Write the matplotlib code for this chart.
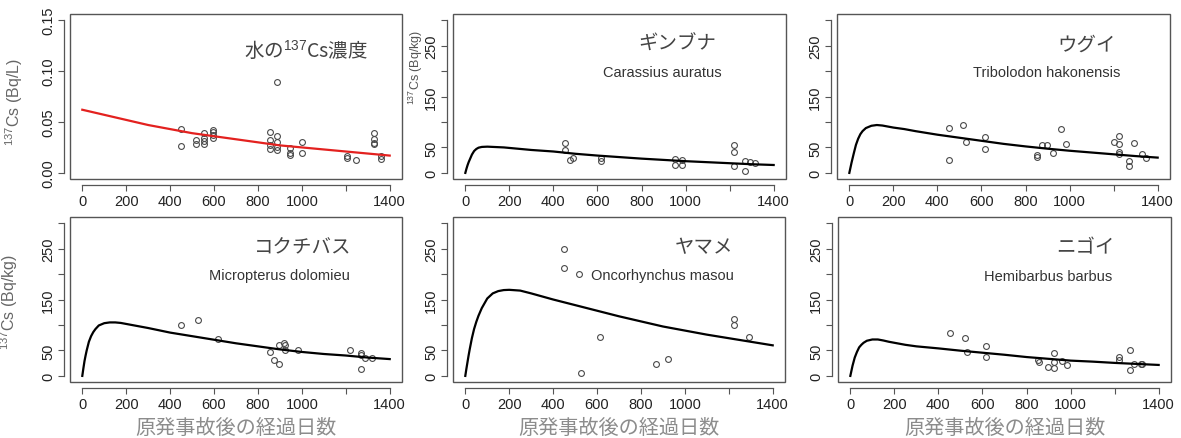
import matplotlib
matplotlib.use("Agg")
import matplotlib.pyplot as plt
from matplotlib.patches import Rectangle

plt.rcParams['font.family'] = ['Liberation Sans', 'Noto Sans CJK JP', 'DejaVu Sans']
plt.rcParams['mathtext.fontset'] = 'custom'
plt.rcParams['mathtext.rm'] = 'Liberation Sans'
plt.rcParams['mathtext.it'] = 'Liberation Sans:italic'
plt.rcParams['mathtext.bf'] = 'Liberation Sans:bold'

CJK = ['Noto Sans CJK JP', 'DejaVu Sans']

# ---------------- data ----------------
x_ticks = [0, 200, 400, 600, 800, 1000, 1200, 1400]
x_tick_labels = ['0', '200', '400', '600', '800', '1000', '', '1400']
water_y_ticks = [0.00, 0.05, 0.10, 0.15]
water_y_tick_labels = ['0.00', '0.05', '0.10', '0.15']
fish_y_ticks = [0, 50, 100, 150, 200, 250, 300]
fish_y_tick_labels = ['0', '50', '', '150', '', '250', '']

xlabel_text = '原発事故後の経過日数'

# water 137Cs
water_days = [451, 451, 520, 520, 553, 553, 553, 553, 596, 596, 596, 596,
              855, 855, 855, 855, 885, 885, 885, 885, 885, 945, 945, 945,
              1000, 1000, 1205, 1205, 1245, 1330, 1330, 1330, 1330, 1360, 1360]
water_cs = [0.043, 0.026, 0.032, 0.028, 0.039, 0.034, 0.031, 0.028,
            0.042, 0.040, 0.037, 0.034, 0.040, 0.032, 0.027, 0.023,
            0.089, 0.036, 0.030, 0.025, 0.022, 0.024, 0.020, 0.018,
            0.030, 0.020, 0.017, 0.015, 0.013, 0.039, 0.033, 0.029, 0.028,
            0.017, 0.014]
water_fit_days = [0, 100, 200, 300, 400, 500, 600, 700, 800, 900, 1000,
                  1100, 1200, 1300, 1400]
water_fit = [0.062, 0.057, 0.052, 0.047, 0.043, 0.039, 0.036, 0.033, 0.030,
             0.027, 0.025, 0.023, 0.021, 0.019, 0.017]

# fish fitted curves (common day grid)
fit_days = [0, 5, 10, 15, 20, 30, 40, 50, 60, 75, 100, 125, 150, 175, 200,
            250, 300, 400, 500, 600, 700, 800, 900, 1000, 1100, 1200, 1300,
            1400]
gin_fit = [0, 8, 15, 21, 26, 36, 43, 47, 49.5, 51, 51.5, 51, 50.5, 50, 49,
           47, 45, 42, 37.5, 34, 31, 28, 25.5, 23, 21, 19, 17, 15.5]
ugui_fit = [0, 10, 20, 29, 38, 55, 67, 76, 82, 88, 92.5, 94, 93, 91, 89,
            86, 82, 75, 69, 63, 57, 52, 47.5, 43.5, 40, 36.5, 33, 30]
koku_fit = [0, 15, 29, 40, 50, 67, 78, 86, 92, 99, 103.5, 105, 105, 104, 102,
            98, 94, 85, 78, 71, 64, 58, 52, 47, 43, 40, 36, 33]
yam_fit = [0, 14, 27, 40, 52, 74, 92, 106, 118, 133, 152, 162, 166.5, 168.5,
           169, 167.5, 162, 150, 139, 128, 117, 107, 97, 89, 81, 74, 67, 60]
nig_fit = [0, 10, 20, 28, 36, 47, 56, 61, 65, 69, 71.5, 71.5, 69.5, 67, 65,
           61, 58, 54, 49.5, 45.5, 41.5, 37, 33.5, 30, 28, 25.5, 23.5, 21.5]

# fish observations
gin_days = [452, 452, 476, 491, 615, 615, 953, 953, 985, 985, 1222, 1222,
            1222, 1272, 1272, 1293, 1317]
gin_cs = [59, 44, 26, 30, 30, 23, 27, 16, 25, 16, 54, 41, 13, 4, 23, 21, 20]

ugui_days = [452, 452, 517, 530, 617, 617, 850, 852, 873, 899, 926, 961, 986,
             1203, 1224, 1224, 1224, 1224, 1271, 1271, 1293, 1327, 1345]
ugui_cs = [88, 26, 94, 60, 70, 47, 36, 32, 54, 54, 40, 86, 57, 60, 73, 57,
           42, 38, 23, 13, 59, 38, 29]

koku_days = [451, 528, 616, 855, 873, 897, 897, 918, 923, 923, 983, 1219,
             1268, 1270, 1268, 1286, 1321]
koku_cs = [100, 110, 73, 47, 32, 60, 23, 64, 61, 51, 51, 51, 45, 42, 14, 36, 36]

yam_days = [448, 448, 517, 528, 614, 870, 923, 1222, 1222, 1290]
yam_cs = [250, 211, 201, 6, 76, 24, 34, 111, 100, 76]

nig_days = [451, 519, 530, 617, 617, 853, 856, 899, 923, 923, 923, 959, 983,
            1222, 1222, 1272, 1272, 1290, 1318, 1323]
nig_cs = [84, 75, 47, 59, 37, 31, 27, 18, 44, 28, 16, 29, 22, 38, 31, 50, 12,
          24, 23, 24]

# ---------------- figure ----------------
W, H = 1181, 439
fig = plt.figure(figsize=(W / 100, H / 100), dpi=100)


def add_ax(left, top, right, bottom):
    return fig.add_axes([left / W, 1 - bottom / H, (right - left) / W,
                         (bottom - top) / H])


AX_COL = '#555555'


def style(ax, yticks, ylabels, ylim):
    ax.set_xlim(-56, 1456)
    ax.set_ylim(*ylim)
    for s in ('top', 'right'):
        ax.spines[s].set_visible(False)
    for s in ('left', 'bottom'):
        ax.spines[s].set_position(('outward', 4.3))
        ax.spines[s].set_color(AX_COL)
        ax.spines[s].set_linewidth(0.9)
    ax.spines['bottom'].set_bounds(x_ticks[0], x_ticks[-1])
    ax.spines['left'].set_bounds(yticks[0], yticks[-1])
    ax.add_patch(Rectangle((0, 0), 1, 1, transform=ax.transAxes, fill=False,
                           edgecolor=AX_COL, lw=1.0, clip_on=False))
    ax.set_xticks(x_ticks)
    ax.set_xticklabels(x_tick_labels)
    ax.set_yticks(yticks)
    ax.set_yticklabels(ylabels, rotation=90, va='center')
    ax.tick_params(direction='out', length=4.5, width=0.8, color=AX_COL,
                   labelsize=10.5, labelcolor='#222222', pad=2)


def obs(ax, d, v):
    ax.plot(d, v, 'o', mfc='none', mec='#4a4a4a', ms=4.2, mew=0.8, zorder=3)


def titles(ax, jp, sp, jx, sx, jy=0.82, sy=0.65):
    ax.text(jx, jy, jp, transform=ax.transAxes, ha='center', va='center',
            fontsize=14, color='#444444', family=CJK)
    if sp:
        ax.text(sx, sy, sp, transform=ax.transAxes, ha='center', va='center',
                fontsize=10.5, color='#333333')


fish_ylim = (-12, 312)
LW = 1.6

# panel 1: water
ax1 = add_ax(70, 15, 402, 180)
style(ax1, water_y_ticks, water_y_tick_labels, (-0.006, 0.156))
obs(ax1, water_days, water_cs)
ax1.plot(water_fit_days, water_fit, color='#e3211f', lw=LW, zorder=4)
ax1.text(0.71, 0.78, '水の$^{137}$Cs濃度', transform=ax1.transAxes,
         ha='center', va='center', fontsize=14, color='#444444', family=CJK)
ax1.set_ylabel('$^{137}$Cs (Bq/L)', fontsize=11.5, color='#666666')
ax1.yaxis.set_label_coords(-0.135, 0.47)

# panel 2: ginbuna
ax2 = add_ax(453, 15, 786, 180)
style(ax2, fish_y_ticks, fish_y_tick_labels, fish_ylim)
obs(ax2, gin_days, gin_cs)
ax2.plot(fit_days, gin_fit, color='black', lw=LW, zorder=4)
titles(ax2, 'ギンブナ', 'Carassius auratus', 0.673, 0.63)
ax2.set_ylabel('$^{137}$Cs (Bq/kg)', fontsize=9, color='#555555')
ax2.yaxis.set_label_coords(-0.085, 0.68)

# panel 3: ugui
ax3 = add_ax(837, 15, 1170, 180)
style(ax3, fish_y_ticks, fish_y_tick_labels, fish_ylim)
obs(ax3, ugui_days, ugui_cs)
ax3.plot(fit_days, ugui_fit, color='black', lw=LW, zorder=4)
titles(ax3, 'ウグイ', 'Tribolodon hakonensis', 0.75, 0.63)

# panel 4: kokuchibasu
ax4 = add_ax(70, 218, 402, 383)
style(ax4, fish_y_ticks, fish_y_tick_labels, fish_ylim)
obs(ax4, koku_days, koku_cs)
ax4.plot(fit_days, koku_fit, color='black', lw=LW, zorder=4)
titles(ax4, 'コクチバス', 'Micropterus dolomieu', 0.70, 0.63)
ax4.set_ylabel('$^{137}$Cs (Bq/kg)', fontsize=11.5, color='#666666')
ax4.yaxis.set_label_coords(-0.15, 0.49)

# panel 5: yamame
ax5 = add_ax(453, 218, 785, 383)
style(ax5, fish_y_ticks, fish_y_tick_labels, fish_ylim)
obs(ax5, yam_days, yam_cs)
ax5.plot(fit_days, yam_fit, color='black', lw=LW, zorder=4)
titles(ax5, 'ヤマメ', 'Oncorhynchus masou', 0.756, 0.63)

# panel 6: nigoi
ax6 = add_ax(838, 218, 1171, 383)
style(ax6, fish_y_ticks, fish_y_tick_labels, fish_ylim)
obs(ax6, nig_days, nig_cs)
ax6.plot(fit_days, nig_fit, color='black', lw=LW, zorder=4)
titles(ax6, 'ニゴイ', 'Hemibarbus barbus', 0.742, 0.63, sy=0.64)

for ax in (ax4, ax5, ax6):
    ax.set_xlabel(xlabel_text, fontsize=14.5, color='#8c8c8c', family=CJK,
                  labelpad=4)

fig.savefig('out.png', dpi=100)
